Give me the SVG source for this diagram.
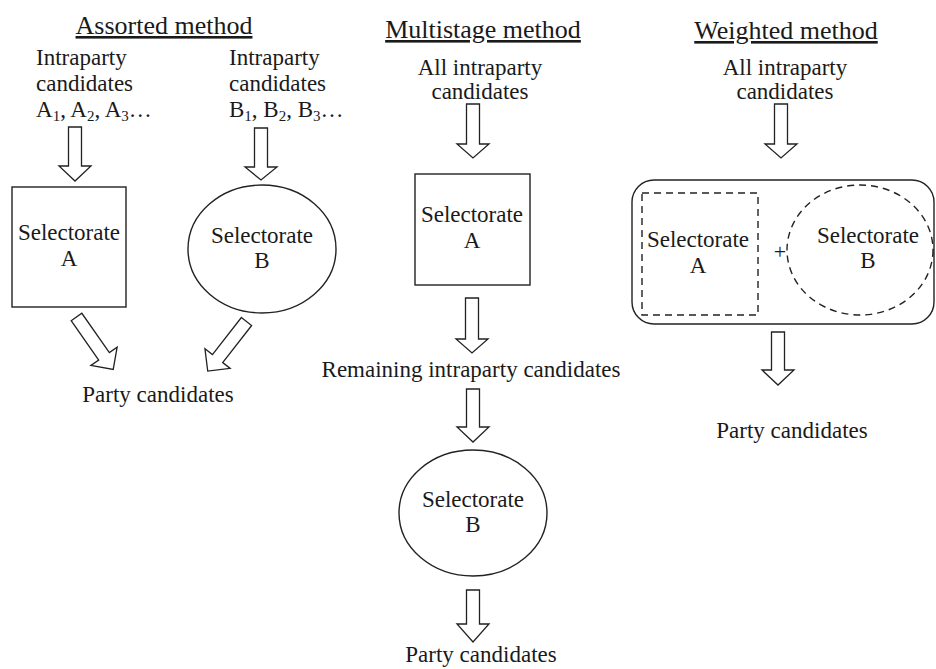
<svg xmlns="http://www.w3.org/2000/svg" width="936" height="669" viewBox="0 0 936 669">
<style>
text{font-family:"Liberation Serif","Times New Roman",serif;font-size:23px;fill:#1a1a1a}
.title{font-size:26px;text-decoration:underline}
.c{text-anchor:middle}
.sub{font-size:15px}
.plus{font-size:22px}
.shape{fill:none;stroke:#222;stroke-width:1.4}
.dash{fill:none;stroke:#222;stroke-width:1.4;stroke-dasharray:7 5}
.arrow{fill:#fff;stroke:#222;stroke-width:1.3;stroke-linejoin:miter}
</style>
<rect width="936" height="669" fill="#fff"/>
<g id="titles">
<text class="title c" x="164" y="34">Assorted method</text>
<text class="title c" x="483" y="38">Multistage method</text>
<text class="title c" x="786" y="39">Weighted method</text>
</g>
<g id="assorted-cand-a">
<text x="36" y="65">Intraparty</text>
<text x="36" y="91">candidates</text>
<text x="36" y="117">A<tspan class="sub" dy="4">1</tspan><tspan dy="-4">, A</tspan><tspan class="sub" dy="4">2</tspan><tspan dy="-4">, A</tspan><tspan class="sub" dy="4">3</tspan><tspan dy="-4">…</tspan></text>
</g>
<g id="assorted-cand-b">
<text x="229" y="65">Intraparty</text>
<text x="229" y="91">candidates</text>
<text x="229" y="117">B<tspan class="sub" dy="4">1</tspan><tspan dy="-4">, B</tspan><tspan class="sub" dy="4">2</tspan><tspan dy="-4">, B</tspan><tspan class="sub" dy="4">3</tspan><tspan dy="-4">…</tspan></text>
</g>
<g id="assorted-sel-a">
<rect class="shape" x="12" y="187" width="114" height="120"/>
<text class="c" x="69" y="240">Selectorate</text>
<text class="c" x="69" y="266">A</text>
</g>
<g id="assorted-sel-b">
<ellipse class="shape" cx="262" cy="249" rx="74" ry="64"/>
<text class="c" x="262" y="243">Selectorate</text>
<text class="c" x="262" y="268">B</text>
</g>
<g id="assorted-party">
<text class="c" x="158" y="402">Party candidates</text>
</g>
<g id="multi-all">
<text class="c" x="480" y="75">All intraparty</text>
<text class="c" x="480" y="99">candidates</text>
</g>
<g id="multi-sel-a">
<rect class="shape" x="415" y="174" width="115" height="111"/>
<text class="c" x="472" y="222">Selectorate</text>
<text class="c" x="472" y="248">A</text>
</g>
<g id="multi-remaining">
<text class="c" x="471" y="377">Remaining intraparty candidates</text>
</g>
<g id="multi-sel-b">
<ellipse class="shape" cx="473" cy="513" rx="74" ry="63"/>
<text class="c" x="473" y="507">Selectorate</text>
<text class="c" x="473" y="532">B</text>
</g>
<g id="multi-party">
<text class="c" x="481" y="662">Party candidates</text>
</g>
<g id="weighted-all">
<text class="c" x="785" y="75">All intraparty</text>
<text class="c" x="785" y="99">candidates</text>
</g>
<g id="weighted-combined">
<rect class="shape" x="632" y="180" width="302" height="144" rx="22" ry="22"/>
<rect class="dash" x="642" y="193" width="116" height="122"/>
<text class="c" x="698" y="247">Selectorate</text>
<text class="c" x="698" y="273">A</text>
<text class="c plus" x="780" y="259">+</text>
<ellipse class="dash" cx="860" cy="250" rx="73" ry="65"/>
<text class="c" x="868" y="243">Selectorate</text>
<text class="c" x="868" y="268">B</text>
</g>
<g id="weighted-party">
<text class="c" x="792" y="438">Party candidates</text>
</g>
<g id="connectors">
<path class="arrow" d="M68.5,127 H81.5 V166 H91 L75,181 L59,166 H68.5 Z"/>
<path class="arrow" d="M254.5,128 H267.5 V167 H277 L261,180 L245,167 H254.5 Z"/>
<path class="arrow" transform="translate(76.5,317) rotate(-35)" d="M-6.5,0 H6.5 V48 H16 L0,64 L-16,48 H-6.5 Z"/>
<path class="arrow" transform="translate(246.5,321.5) rotate(38)" d="M-6.5,0 H6.5 V47 H16 L0,63 L-16,47 H-6.5 Z"/>
<path class="arrow" d="M466.5,104 H479.5 V144 H489 L473,158 L457,144 H466.5 Z"/>
<path class="arrow" d="M465.5,298 H478.5 V339 H488 L472,353 L456,339 H465.5 Z"/>
<path class="arrow" d="M466.5,389 H479.5 V427 H489 L473,442 L457,427 H466.5 Z"/>
<path class="arrow" d="M466.5,590 H479.5 V624 H489 L473,642 L457,624 H466.5 Z"/>
<path class="arrow" d="M774.5,104 H787.5 V144 H797 L781,158 L765,144 H774.5 Z"/>
<path class="arrow" d="M771.5,332 H784.5 V370 H794 L778,385 L762,370 H771.5 Z"/>
</g>
</svg>
